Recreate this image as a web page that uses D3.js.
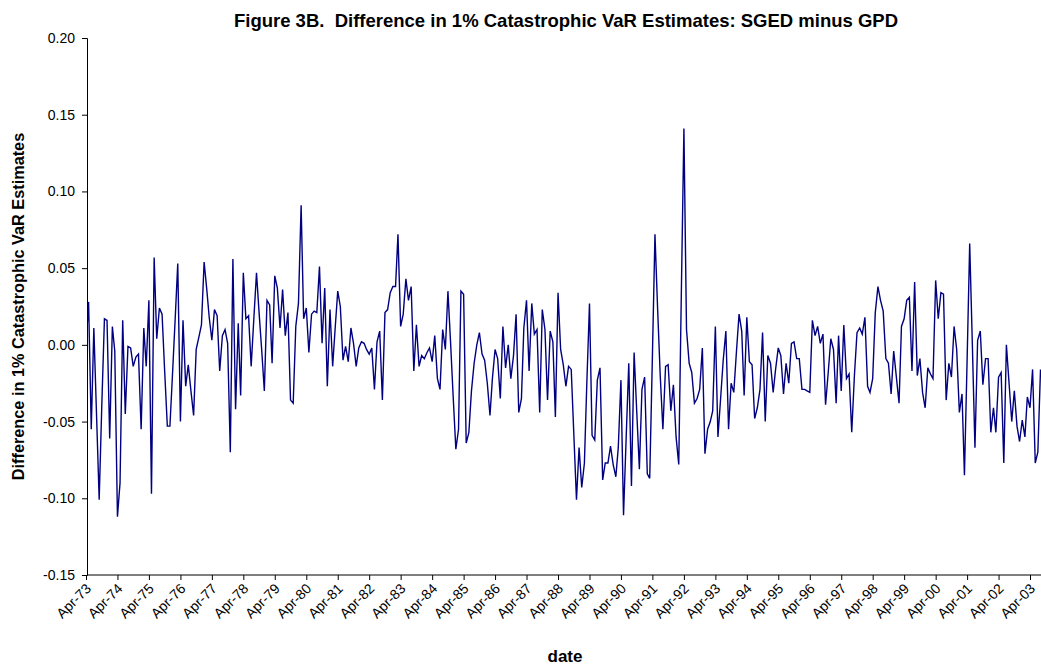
<!DOCTYPE html>
<html>
<head>
<meta charset="utf-8">
<script src="https://cdn.jsdelivr.net/npm/d3@7"></script>
<style>
  body { margin: 0; background: #fff; }
  svg { display: block; font-family: "Liberation Sans", Arial, sans-serif; }
</style>
</head>
<body>
<div id="chart"></div>
<script>
// Monthly values, Apr-73 onwards, in chunks of about 30 months
const vals73 = [-0.001, 0.028, -0.055, 0.011, -0.045, -0.101, -0.040, 0.017, 0.016, -0.061, 0.012, -0.004, -0.112, -0.090, 0.016, -0.045, -0.001, -0.002, -0.014, -0.008, -0.006, -0.055, 0.011, -0.014, 0.029, -0.097, 0.057, 0.004, 0.024, 0.020, -0.017];
const vals75 = [-0.053, -0.053, -0.018, 0.018, 0.053, -0.050, 0.016, -0.027, -0.013, -0.030, -0.046, -0.003, 0.005, 0.013, 0.054, 0.036, 0.018, 0.003, 0.023, 0.019, -0.017, 0.006, 0.010, 0.001, -0.070, 0.056, -0.042, 0.014, -0.033, 0.047];
const vals78 = [0.017, 0.019, -0.014, 0.017, 0.047, 0.021, -0.004, -0.030, 0.029, 0.026, -0.012, 0.045, 0.037, 0.011, 0.036, 0.006, 0.021, -0.036, -0.038, 0.012, 0.027, 0.091, 0.017, 0.024, -0.005, 0.020, 0.022, 0.021, 0.051, 0.001];
const vals80 = [0.037, -0.027, 0.023, -0.014, 0.010, 0.035, 0.025, -0.010, -0.001, -0.011, 0.011, 0.001, -0.014, -0.002, 0.002, 0.001, -0.003, -0.006, -0.002, -0.029, 0.002, 0.009, -0.036, 0.021, 0.023, 0.034, 0.038, 0.038, 0.072, 0.012, 0.020];
const vals83 = [0.043, 0.029, 0.038, -0.017, 0.013, -0.014, -0.007, -0.009, -0.005, -0.002, -0.011, 0.006, -0.022, -0.029, 0.010, -0.003, 0.035, 0.001, -0.034, -0.068, -0.055, 0.035, 0.033, -0.064, -0.057, -0.030, -0.012, 0.000, 0.008, -0.006, -0.010];
const vals86 = [-0.025, -0.046, -0.022, -0.003, -0.009, -0.035, 0.012, -0.015, 0.000, -0.022, -0.007, 0.020, -0.044, -0.035, 0.011, 0.029, -0.017, 0.027, 0.007, 0.010, -0.044, 0.023, 0.010, -0.036, 0.009, 0.002, -0.047, 0.034, -0.003, -0.013, -0.027];
const vals88 = [-0.014, -0.016, -0.058, -0.101, -0.067, -0.093, -0.077, -0.025, 0.027, -0.059, -0.062, -0.023, -0.015, -0.088, -0.077, -0.077, -0.066, -0.078, -0.086, -0.067, -0.023, -0.111, -0.060, -0.012, -0.092, -0.005, -0.043, -0.081, -0.029, -0.021];
const vals91 = [-0.084, -0.087, -0.008, 0.072, 0.023, -0.020, -0.055, -0.014, -0.013, -0.043, -0.026, -0.060, -0.078, 0.030, 0.141, 0.010, -0.012, -0.018, -0.038, -0.035, -0.029, -0.002, -0.071, -0.055, -0.050, -0.043, 0.012, -0.060, -0.035, -0.010];
const vals93 = [0.009, -0.055, -0.025, -0.031, -0.005, 0.020, 0.009, -0.033, 0.018, -0.011, -0.013, -0.048, -0.041, -0.029, 0.008, -0.050, -0.007, -0.012, -0.031, -0.016, -0.002, -0.007, -0.032, -0.012, -0.025, 0.001, 0.002, -0.009, -0.009, -0.029];
const vals96 = [-0.029, -0.030, -0.031, 0.016, 0.006, 0.012, 0.001, 0.007, -0.039, -0.018, 0.004, -0.003, -0.038, 0.006, -0.030, 0.013, -0.022, -0.019, -0.057, -0.020, 0.008, 0.011, 0.007, 0.018, -0.027, -0.031, -0.022, 0.021, 0.038, 0.029, 0.022];
const vals98 = [-0.009, -0.012, -0.032, -0.004, -0.021, -0.038, 0.012, 0.017, 0.029, 0.031, -0.017, 0.041, -0.020, -0.009, -0.031, -0.041, -0.015, -0.019, -0.022, 0.042, 0.017, 0.034, 0.033, -0.036, -0.012, -0.021, 0.012, -0.003, -0.044, -0.032];
const vals01 = [-0.085, -0.010, 0.066, 0.000, -0.067, 0.003, 0.009, -0.026, -0.009, -0.009, -0.057, -0.041, -0.057, -0.021, -0.018, -0.077, 0.000, -0.025, -0.050, -0.030, -0.053, -0.063, -0.049, -0.060, -0.034, -0.041, -0.016, -0.077, -0.070, -0.016];

const yTicks = [-0.15, -0.10, -0.05, 0.00, 0.05, 0.10, 0.15, 0.20];
const tickYears = d3.range(1973, 2004); // labels Apr-73 .. Apr-03

const values = [].concat(vals73, vals75, vals78, vals80, vals83, vals86,
    vals88, vals91, vals93, vals96, vals98, vals01);
const start = new Date(1973, 3, 1);
const series = values.map((v, i) => ({ date: d3.timeMonth.offset(start, i), value: v }));

const width = 1041, height = 667;
const plot = { left: 87, right: 1041, top: 38, bottom: 575 };

const svg = d3.select('#chart').append('svg')
    .attr('width', width)
    .attr('height', height);

svg.append('rect').attr('width', width).attr('height', height).attr('fill', '#fff');

const x = d3.scaleTime()
    .domain([new Date(1973, 3, 1), new Date(2003, 3, 1)])
    .range([86, 1030]);

const y = d3.scaleLinear()
    .domain([-0.15, 0.20])
    .range([plot.bottom, plot.top]);

// the series runs off the right edge of the figure
svg.append('clipPath').attr('id', 'clip')
    .append('rect')
    .attr('x', plot.left).attr('y', 0)
    .attr('width', plot.right - plot.left).attr('height', height);

const line = d3.line()
    .x(d => x(d.date))
    .y(d => y(d.value));

svg.append('path')
    .datum(series)
    .attr('clip-path', 'url(#clip)')
    .attr('fill', 'none')
    .attr('stroke', '#000080')
    .attr('stroke-width', 1.4)
    .attr('d', line);

// Y axis (plain hyphen for negatives, like the original)
const yAxis = svg.append('g')
    .attr('transform', `translate(${plot.left},0)`)
    .call(d3.axisLeft(y).tickValues(yTicks).tickFormat(d => d.toFixed(2)).tickSize(5).tickPadding(7));
yAxis.selectAll('text').style('font-size', '14px').attr('fill', '#000');
yAxis.selectAll('line, path').attr('stroke', '#000');

// X axis
const xAxis = svg.append('g')
    .attr('transform', `translate(0,${plot.bottom})`)
    .call(d3.axisBottom(x)
        .tickValues(tickYears.map(yr => new Date(yr, 3, 1)))
        .tickFormat(d3.timeFormat('Apr-%y'))
        .tickSize(5)
        .tickSizeOuter(0));
xAxis.select('.domain').attr('d', `M${plot.left},0H${plot.right}`).attr('stroke', '#000');
xAxis.selectAll('line').attr('stroke', '#000');
xAxis.selectAll('text')
    .style('font-size', '14px')
    .attr('fill', '#000')
    .attr('text-anchor', 'end')
    .attr('x', 0)
    .attr('y', 0)
    .attr('dx', 0)
    .attr('dy', '0.35em')
    .attr('transform', 'translate(2,11) rotate(-45)');

// Titles
svg.append('text')
    .attr('x', 566)
    .attr('y', 27)
    .attr('text-anchor', 'middle')
    .style('font-size', '18.5px')
    .style('font-weight', 'bold')
    .style('white-space', 'pre')
    .text('Figure 3B.  Difference in 1% Catastrophic VaR Estimates: SGED minus GPD');

svg.append('text')
    .attr('transform', `translate(24,${(plot.top + plot.bottom) / 2}) rotate(-90)`)
    .attr('text-anchor', 'middle')
    .style('font-size', '16.3px')
    .style('font-weight', 'bold')
    .text('Difference in 1% Catastrophic VaR Estimates');

svg.append('text')
    .attr('x', 565)
    .attr('y', 662)
    .attr('text-anchor', 'middle')
    .style('font-size', '17px')
    .style('font-weight', 'bold')
    .text('date');
</script>
</body>
</html>
